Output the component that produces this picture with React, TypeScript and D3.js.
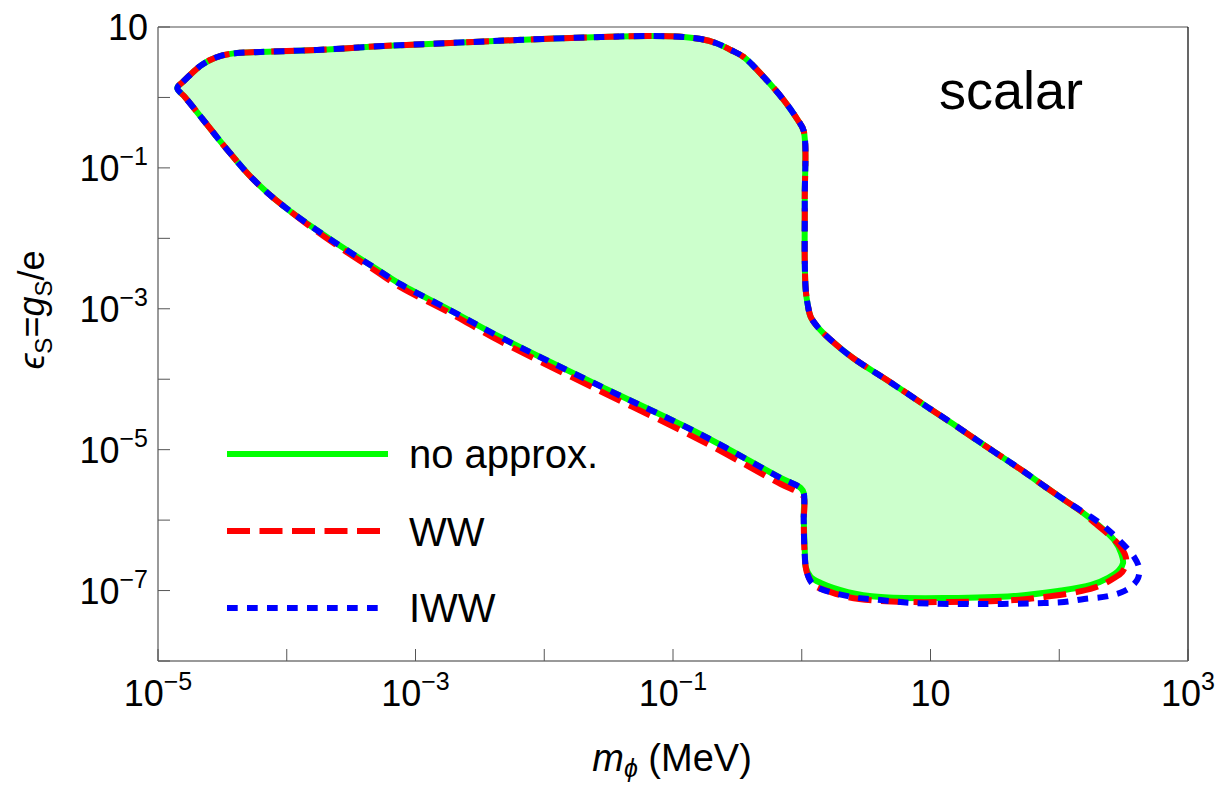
import React from "react";
import * as d3 from "d3";

// ---- axis ticks ----
const xTickValues = [1e-5, 1e-4, 1e-3, 1e-2, 1e-1, 1, 10, 100, 1000];
const xTickLabels: [string, string][] = [["10", "−5"], ["", ""], ["10", "−3"], ["", ""], ["10", "−1"], ["", ""], ["10", ""], ["", ""], ["10", "3"]];
const yTickValues = [10, 1, 1e-1, 1e-2, 1e-3, 1e-4, 1e-5, 1e-6, 1e-7, 1e-8];
const yTickLabels: [string, string][] = [["10", ""], ["", ""], ["10", "−1"], ["", ""], ["10", "−3"], ["", ""], ["10", "−5"], ["", ""], ["10", "−7"], ["", ""]];

// ---- contour data (m in MeV, eps) ----
// shared upper boundary: left tip -> top edge -> vertical at 2m_e -> upper right edge
const commonUpperMass = [1.41e-5, 1.56e-5, 1.84e-5, 2.12e-5, 2.54e-5, 3.03e-5, 4.11e-5, 6.21e-5, 1.72e-4, 5.62e-4, 1.87e-3, 6.19e-3, 2.74e-2, 6.70e-2, 0.121, 0.164, 0.215, 0.281, 0.354, 0.507, 0.724, 0.931, 1.036, 1.055, 1.055, 1.074, 1.114, 1.175, 1.332, 1.682, 2.50, 4.59, 8.28, 15.0, 29.0, 52.3, 80.4, 107];
const commonUpperEps = [1.36, 1.66, 2.22, 2.79, 3.40, 3.87, 4.27, 4.42, 4.72, 5.37, 5.93, 6.54, 7.21, 7.45, 7.21, 6.75, 5.93, 4.72, 3.75, 1.95, 0.920, 0.478, 0.334, 0.0350, 4.92e-3, 1.85e-3, 1.13e-3, 7.64e-4, 5.50e-4, 3.60e-4, 2.00e-4, 9.75e-5, 4.75e-5, 2.31e-5, 1.02e-5, 4.98e-6, 2.85e-6, 1.99e-6];
// shared last part of lower edge back to the left tip
const commonLowerMass = [1.06e-4, 7.41e-5, 5.18e-5, 3.62e-5, 2.63e-5, 2.01e-5, 1.62e-5];
const commonLowerEps = [2.44e-2, 4.12e-2, 7.67e-2, 0.163, 0.334, 0.621, 1.01];

// no approx.
const noApproxMass = [146, 223, 267, 302, 313, 292, 240, 177, 97.9, 44.5, 13.7, 4.11, 2.28, 1.405, 1.175, 1.074, 1.055, 1.036, 1.036, 0.982, 0.687, 0.162, 2.71e-2, 4.53e-3, 1.85e-3, 7.58e-4, 4.85e-4, 2.84e-4, 1.66e-4];
const noApproxEps = [1.35e-6, 7.23e-7, 5.21e-7, 3.41e-7, 2.46e-7, 1.96e-7, 1.51e-7, 1.20e-7, 9.84e-8, 8.36e-8, 7.83e-8, 8.09e-8, 9.52e-8, 1.28e-7, 1.56e-7, 2.16e-7, 3.76e-7, 1.11e-6, 2.42e-6, 2.85e-6, 3.96e-6, 1.67e-5, 8.01e-5, 3.97e-4, 9.60e-4, 2.25e-3, 3.79e-3, 7.05e-3, 1.36e-2];
// WW
const wwMass = [146, 193, 244, 292, 325, 331, 308, 267, 211, 148, 86.4, 44.5, 13.7, 4.11, 2.28, 1.682, 1.24, 1.094, 1.055, 1.036, 1.036, 0.931, 0.687, 0.162, 2.71e-2, 4.53e-3, 1.85e-3, 7.58e-4, 4.85e-4, 2.84e-4, 1.66e-4];
const wwEps = [1.35e-6, 8.79e-7, 6.14e-7, 4.42e-7, 3.19e-7, 2.46e-7, 1.83e-7, 1.51e-7, 1.19e-7, 9.80e-8, 8.33e-8, 7.33e-8, 6.87e-8, 7.10e-8, 8.09e-8, 9.52e-8, 1.20e-7, 1.83e-7, 3.19e-7, 1.00e-6, 2.13e-6, 2.51e-6, 3.26e-6, 1.37e-5, 6.80e-5, 3.48e-4, 8.71e-4, 2.04e-3, 3.49e-3, 6.61e-3, 1.31e-2];
// IWW
const iwwMass = [130, 177, 231, 302, 382, 417, 410, 375, 319, 240, 156, 109, 76.2, 24.7, 7.43, 4.11, 2.28, 1.24, 1.094, 1.055, 1.036, 1.036, 0.982, 0.687, 0.162, 2.71e-2, 4.53e-3, 1.85e-3, 7.58e-4, 4.85e-4, 2.84e-4, 1.66e-4];
const iwwEps = [1.58e-6, 1.11e-6, 7.72e-7, 4.88e-7, 2.99e-7, 2.09e-7, 1.51e-7, 1.20e-7, 9.80e-8, 8.33e-8, 7.57e-8, 6.87e-8, 6.65e-8, 6.44e-8, 6.65e-8, 7.33e-8, 8.33e-8, 1.20e-7, 1.83e-7, 3.19e-7, 1.00e-6, 2.42e-6, 2.85e-6, 3.96e-6, 1.67e-5, 8.01e-5, 3.97e-4, 9.60e-4, 2.25e-3, 3.79e-3, 7.05e-3, 1.36e-2];

const legendLabels = ["no approx.", "WW", "IWW"];

const W = 1225, H = 786;
const L = 158, R = 1188, T = 27, B = 661;
const FONT = "'Liberation Sans', Arial, Helvetica, sans-serif";

function build(mass: number[], eps: number[]): [number, number][] {
  const m = [...commonUpperMass, ...mass, ...commonLowerMass];
  const e = [...commonUpperEps, ...eps, ...commonLowerEps];
  return m.map((v, i) => [v, e[i]]);
}

export default function App() {
  const x = d3.scaleLog().domain([1e-5, 1e3]).range([L, R]);
  const y = d3.scaleLog().domain([1e-8, 10]).range([B, T]);
  const line = d3
    .line<[number, number]>()
    .x((d) => x(d[0]))
    .y((d) => y(d[1]))
    .curve(d3.curveCatmullRomClosed.alpha(0.5));

  const green = build(noApproxMass, noApproxEps);
  const red = build(wwMass, wwEps);
  const blue = build(iwwMass, iwwEps);

  const tickFs = 36;
  const supFs = 25;

  return (
    <svg width={W} height={H} style={{ position: "absolute", left: 0, top: 0, background: "#fff" }} fontFamily={FONT}>
      <rect x={0} y={0} width={W} height={H} fill="#fff" />
      <defs>
        <clipPath id="plotclip">
          <rect x={L} y={T} width={R - L} height={B - T} />
        </clipPath>
      </defs>
      <g clipPath="url(#plotclip)">
        <path d={line(green) || ""} fill="#ccffcc" stroke="none" />
        <path d={line(green) || ""} fill="none" stroke="#00ff00" strokeWidth={6} strokeLinejoin="round" />
        <path d={line(red) || ""} fill="none" stroke="#ff0000" strokeWidth={6} strokeDasharray="23 9.5" />
        <path d={line(blue) || ""} fill="none" stroke="#0000ff" strokeWidth={6} strokeDasharray="10.7 9.3" />
      </g>
      {/* frame */}
      <line x1={L} y1={T} x2={R} y2={T} stroke="#888" strokeWidth={1.5} />
      <line x1={R} y1={T} x2={R} y2={B} stroke="#000" strokeWidth={1.2} />
      <line x1={L} y1={B} x2={R} y2={B} stroke="#777" strokeWidth={1.5} />
      <line x1={L} y1={T} x2={L} y2={B} stroke="#777" strokeWidth={1.5} />
      {/* x ticks */}
      {xTickValues.map((v, i) => (
        <g key={"xt" + i}>
          <line x1={x(v)} x2={x(v)} y1={B} y2={B - 12} stroke="#555" strokeWidth={1} />
          {xTickLabels[i][0] && (
            <text x={x(v)} y={706} textAnchor="middle" fontSize={tickFs} fill="#000">
              {xTickLabels[i][0]}
              {xTickLabels[i][1] && (
                <tspan dy={-16} fontSize={supFs}>
                  {xTickLabels[i][1]}
                </tspan>
              )}
            </text>
          )}
        </g>
      ))}
      {/* y ticks */}
      {yTickValues.map((v, i) => (
        <g key={"yt" + i}>
          <line x1={L} x2={L + 12} y1={y(v)} y2={y(v)} stroke="#555" strokeWidth={1} />
          {yTickLabels[i][0] && (
            <text x={148} y={y(v) + 13} textAnchor="end" fontSize={tickFs} fill="#000">
              {yTickLabels[i][0]}
              {yTickLabels[i][1] && (
                <tspan dy={-16} fontSize={supFs}>
                  {yTickLabels[i][1]}
                </tspan>
              )}
            </text>
          )}
        </g>
      ))}
      {/* axis titles */}
      <text x={672} y={771} textAnchor="middle" fontSize={38} fill="#000">
        <tspan fontStyle="italic">m</tspan>
        <tspan fontStyle="italic" fontSize={25} dy={6}>ϕ</tspan>
        <tspan dy={-6}> (MeV)</tspan>
      </text>
      <text transform="translate(44,310) rotate(-90)" textAnchor="middle" fontSize={36} fill="#000">
        <tspan fontStyle="italic">ϵ</tspan>
        <tspan fontSize={24} dy={8}>S</tspan>
        <tspan dy={-8}>=</tspan>
        <tspan fontStyle="italic">g</tspan>
        <tspan fontSize={24} dy={8}>S</tspan>
        <tspan dy={-8}>/e</tspan>
      </text>
      {/* annotation */}
      <text x={939} y={109} fontSize={54} fill="#000">scalar</text>
      {/* legend */}
      <line x1={227} x2={388} y1={454} y2={454} stroke="#00ff00" strokeWidth={6} />
      <line x1={227} x2={380} y1={531} y2={531} stroke="#ff0000" strokeWidth={6} strokeDasharray="23 9.5" />
      <line x1={227} x2={378} y1={608} y2={608} stroke="#0000ff" strokeWidth={6} strokeDasharray="10.7 9.3" />
      <text x={409} y={468} fontSize={40} fill="#000">{legendLabels[0]}</text>
      <text x={409} y={546} fontSize={40} fill="#000">{legendLabels[1]}</text>
      <text x={409} y={622} fontSize={40} fill="#000">{legendLabels[2]}</text>
    </svg>
  );
}
